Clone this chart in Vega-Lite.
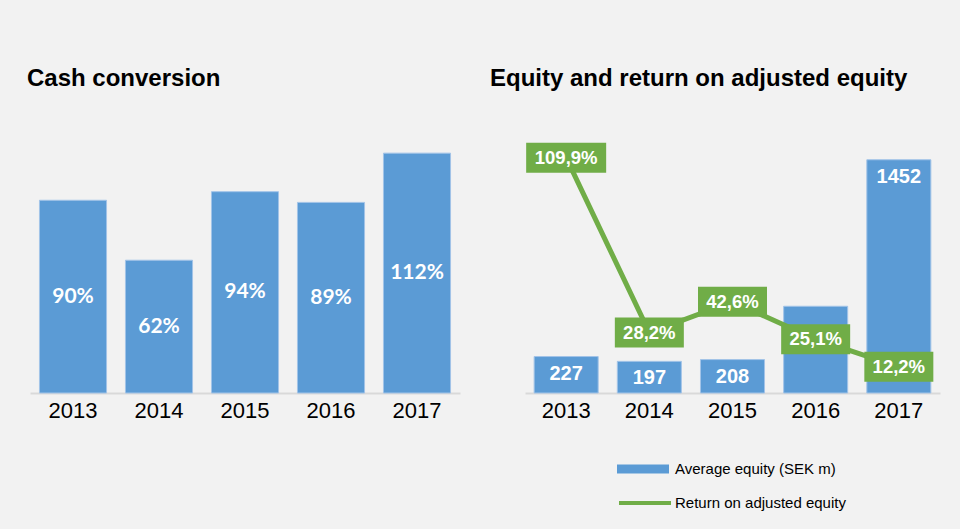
{
  "$schema": "https://vega.github.io/schema/vega-lite/v6.json",
  "background": "#f2f2f2",
  "padding": {"left": 27, "top": 67, "right": 20, "bottom": 20},
  "config": {
    "locale": {"number": {"decimal": ",", "thousands": " ", "grouping": [3], "currency": ["", " kr"]}},
    "view": {"stroke": null},
    "title": {"font": "Liberation Sans", "fontSize": 24, "fontWeight": "bold", "color": "#000000", "anchor": "start", "offset": 45},
    "axisX": {"title": null, "labelAngle": 0, "labelFont": "Liberation Sans", "labelFontSize": 22, "labelColor": "#000000", "ticks": false, "domainColor": "#d9d9d9", "domainWidth": 2, "labelPadding": 7}
  },
  "datasets": {
    "cash": [
      {"year": "2013", "cc": 0.90},
      {"year": "2014", "cc": 0.62},
      {"year": "2015", "cc": 0.94},
      {"year": "2016", "cc": 0.89},
      {"year": "2017", "cc": 1.12}
    ],
    "equity": [
      {"year": "2013", "equity": 227, "roe": 1.099},
      {"year": "2014", "equity": 197, "roe": 0.282},
      {"year": "2015", "equity": 208, "roe": 0.426},
      {"year": "2016", "equity": 540, "roe": 0.251},
      {"year": "2017", "equity": 1452, "roe": 0.122}
    ]
  },
  "spacing": 30,
  "hconcat": [
    {
      "title": {"text": "Cash conversion", "dx": -3},
      "width": 430,
      "height": 257,
      "data": {"name": "cash"},
      "encoding": {
        "x": {"field": "year", "type": "ordinal", "scale": {"paddingInner": 0.22, "paddingOuter": 0.11}}
      },
      "layer": [
        {
          "mark": {"type": "bar", "color": "#5b9bd5", "stroke": "#a3c4e8", "strokeWidth": 1},
          "encoding": {"y": {"field": "cc", "type": "quantitative", "scale": {"domain": [0, 1.2]}, "axis": null}}
        },
        {
          "mark": {"type": "text", "font": "Lato", "fontWeight": "bold", "fontSize": 21, "color": "#ffffff", "baseline": "middle"},
          "encoding": {
            "y": {"field": "cc", "type": "quantitative", "scale": {"domain": [0, 2.4]}, "axis": null},
            "text": {"field": "cc", "format": ".0%"}
          }
        }
      ],
      "resolve": {"scale": {"y": "independent"}}
    },
    {
      "title": {"text": "Equity and return on adjusted equity", "dx": -35},
      "width": 415,
      "height": 257,
      "data": {"name": "equity"},
      "encoding": {
        "x": {"field": "year", "type": "ordinal", "scale": {"paddingInner": 0.23, "paddingOuter": 0.11}}
      },
      "layer": [
        {
          "mark": {"type": "bar", "stroke": "#a3c4e8", "strokeWidth": 1},
          "encoding": {
            "y": {"field": "equity", "type": "quantitative", "scale": {"domain": [0, 1600]}, "axis": null},
            "fill": {"datum": "Average equity (SEK m)", "scale": {"range": ["#5b9bd5"]},
              "legend": {"title": null, "orient": "none", "legendX": 587, "legendY": 307, "symbolType": "M-1,-0.173H1V0.173H-1Z", "symbolSize": 2704, "symbolStrokeWidth": 0, "labelFont": "Liberation Sans", "labelFontSize": 15, "labelColor": "#000000", "labelOffset": 6, "labelLimit": 400}}
          }
        },
        {
          "transform": [{"filter": "datum.year != '2016'"}],
          "mark": {"type": "text", "font": "Liberation Sans", "fontWeight": "bold", "fontSize": 20, "color": "#ffffff", "baseline": "middle", "dy": 17},
          "encoding": {
            "y": {"field": "equity", "type": "quantitative", "scale": {"domain": [0, 1600]}, "axis": null},
            "text": {"field": "equity", "type": "quantitative", "format": "d"}
          }
        },
        {
          "mark": {"type": "line", "strokeWidth": 5},
          "encoding": {
            "y": {"field": "roe", "type": "quantitative", "scale": {"domain": [0, 1.2]}, "axis": null},
            "stroke": {"datum": "Return on adjusted equity", "scale": {"range": ["#70ad47"]},
              "legend": {"title": null, "orient": "none", "legendX": 587, "legendY": 339, "symbolType": "stroke", "symbolSize": 2704, "symbolStrokeWidth": 4, "labelFont": "Liberation Sans", "labelFontSize": 15, "labelColor": "#000000", "labelOffset": 2, "labelLimit": 400}}
          }
        },
        {
          "transform": [{"filter": "datum.roe < 1"}],
          "mark": {"type": "point", "shape": "M-3.45,-1.5H3.45V1.5H-3.45Z", "filled": true, "color": "#70ad47", "opacity": 1, "size": 400},
          "encoding": {"y": {"field": "roe", "type": "quantitative", "scale": {"domain": [0, 1.2]}, "axis": null}}
        },
        {
          "transform": [{"filter": "datum.roe >= 1"}],
          "mark": {"type": "point", "shape": "M-4,-1.5H4V1.5H-4Z", "filled": true, "color": "#70ad47", "opacity": 1, "size": 400},
          "encoding": {"y": {"field": "roe", "type": "quantitative", "scale": {"domain": [0, 1.2]}, "axis": null}}
        },
        {
          "mark": {"type": "text", "font": "Liberation Sans", "fontWeight": "bold", "fontSize": 18.5, "color": "#ffffff", "baseline": "middle"},
          "encoding": {
            "y": {"field": "roe", "type": "quantitative", "scale": {"domain": [0, 1.2]}, "axis": null},
            "text": {"field": "roe", "type": "quantitative", "format": ".1%"}
          }
        }
      ],
      "resolve": {"scale": {"y": "independent"}}
    }
  ]
}
